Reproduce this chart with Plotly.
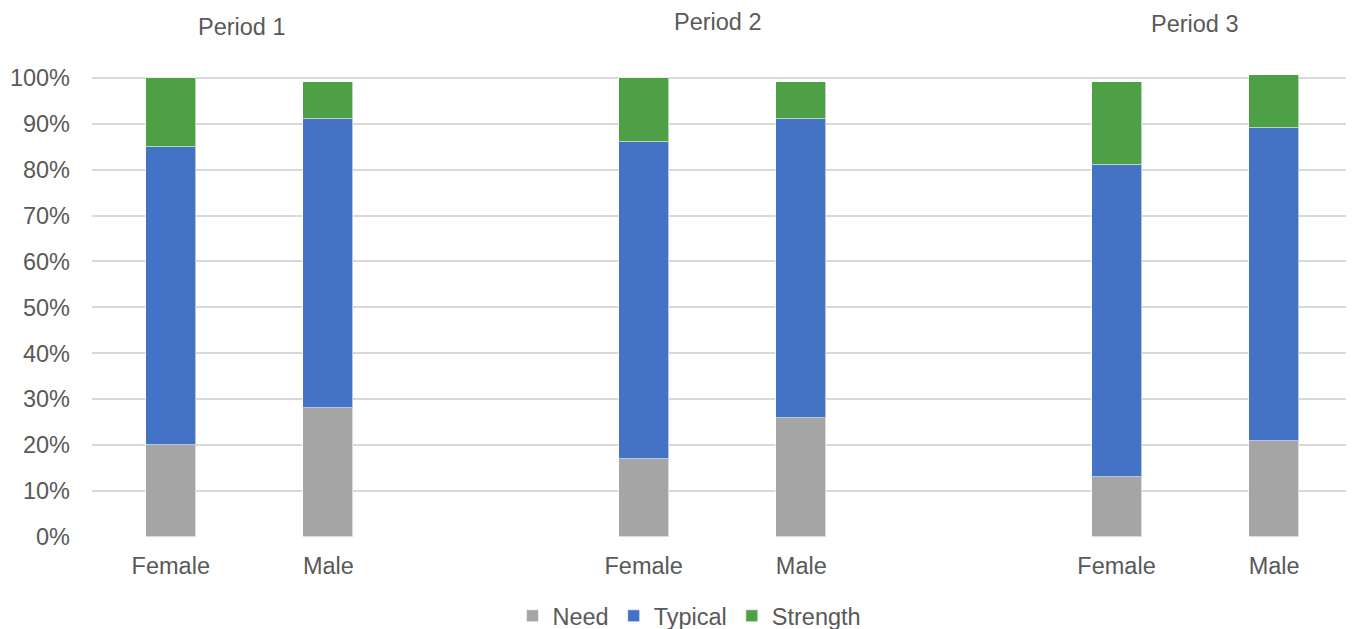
import plotly.graph_objects as go

categories = ["Female", "Male", "Female", "Male", "Female", "Male"]
periods = ["Period 1", "Period 2", "Period 3"]
need = [0.20, 0.28, 0.17, 0.26, 0.13, 0.21]
typical = [0.65, 0.63, 0.69, 0.65, 0.68, 0.68]
strength = [0.15, 0.08, 0.14, 0.08, 0.18, 0.115]

xpos = [0, 1, 3, 4, 6, 7]
font_family = "Liberation Sans"
txt = "#595959"
FS = 23.5

# page body has an 8px margin; compensate
OFF = 8
W, H = 1354 - OFF, 629 - OFF
top, bottom, left, right = 75 - OFF, 92, 92 - OFF, 1
ph = H - top - bottom
pw = W - left - right

fig = go.Figure()
for name, vals, col in [("Need", need, "#A5A5A5"), ("Typical", typical, "#4472C4"), ("Strength", strength, "#4EA047")]:
    fig.add_trace(go.Bar(x=xpos, y=vals, name=name,
                         marker=dict(color=col, line=dict(color="rgba(255,255,255,0.6)", width=1)),
                         width=0.317))

title_px = [27, 22, 24]
title_dx = [-0.05, -0.03, 0.0]
ann = []
for i, p in enumerate(periods):
    ann.append(dict(x=xpos[2 * i] + 0.5 + title_dx[i], y=(H - bottom - (title_px[i] - OFF)) / ph,
                    xref="x", yref="paper", yanchor="middle", xanchor="center",
                    text=p, showarrow=False, font=dict(size=FS, color=txt, family=font_family)))

fig.update_layout(
    barmode="stack",
    width=W, height=H,
    margin=dict(l=left, r=right, t=top, b=bottom, autoexpand=False),
    plot_bgcolor="white", paper_bgcolor="white",
    font=dict(family=font_family, size=FS, color=txt),
    xaxis=dict(range=[-0.5, 7.5], tickvals=xpos, ticktext=categories, showgrid=False, zeroline=False,
               showline=False, ticks="", tickfont=dict(size=FS, color=txt), automargin=False,
               ticklabelstandoff=12),
    yaxis=dict(range=[0, 1.006], tickvals=[i / 10 for i in range(11)], tickformat=".0%",
               showgrid=True, gridcolor="#D9D9D9", gridwidth=1.5,
               zeroline=False, showline=False, ticks="", tickfont=dict(size=FS, color=txt),
               automargin=False, ticklabelstandoff=21),
    legend=dict(orientation="h", x=0.5 - 33 / pw, xanchor="center", y=(H - bottom - (616 - OFF)) / ph,
                yanchor="middle", font=dict(size=FS, color=txt), traceorder="normal", itemwidth=30),
    annotations=ann,
    bargap=0,
)
fig.write_html("out.html")
